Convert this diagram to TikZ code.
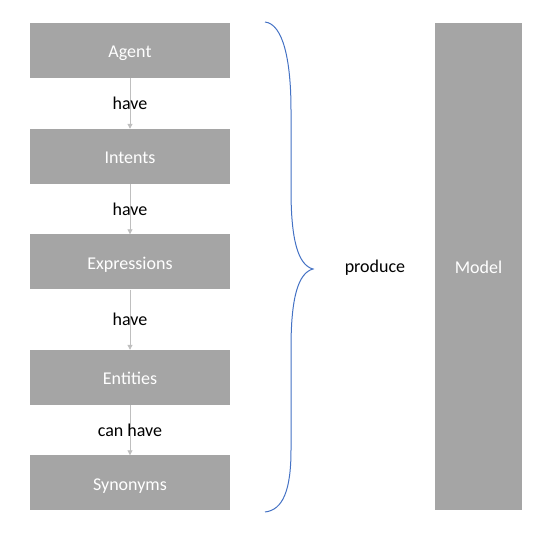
\documentclass[tikz,border=0pt]{standalone}
\usepackage{fontspec}
\setmainfont{Carlito}
\usetikzlibrary{arrows.meta}
\definecolor{boxgray}{HTML}{A5A5A5}
\definecolor{arrgray}{HTML}{BFBFBF}
\definecolor{braceblue}{HTML}{4472C4}
\tikzset{
  stepbox/.style={fill=boxgray, draw=none, minimum width=200pt, minimum height=55pt, inner sep=0pt, text=white, font=\fontsize{18}{21}\selectfont, text height=15pt, text depth=0pt},
  lbl/.style={font=\fontsize{18}{21}\selectfont, text=black, inner sep=0pt, text height=14pt, text depth=0pt},
  conn/.style={draw=arrgray, line width=0.9pt, -{Triangle[length=5pt,width=5pt]}},
}
\begin{document}
\begin{tikzpicture}[x=1pt,y=-1pt]
\useasboundingbox (0,0) rectangle (560,534);
\node[stepbox] (agent) at (130,50.5) {Agent};
\node[stepbox] (intents) at (130,156.5) {Intents};
\node[stepbox] (expr) at (130,262) {Expressions};
\node[stepbox] (ent) at (130,377.5) {Entities};
\node[stepbox] (syn) at (130,483) {Synonyms};
\node[stepbox, minimum width=87pt, minimum height=487pt] (model) at (478.5,266.5) {Model};
\draw[conn] (agent.south) -- (intents.north);
\draw[conn] (intents.south) -- (expr.north);
\draw[conn] (expr.south) -- (ent.north);
\draw[conn] (ent.south) -- (syn.north);
\node[lbl] (l1) at (130,103) {have};
\node[lbl] (l2) at (130,209) {have};
\node[lbl] (l3) at (130,319) {have};
\node[lbl] (l4) at (130,430) {can have};
\node[lbl] (prod) at (375,266) {produce};
\draw[braceblue, line width=1pt] (265,22) .. controls (283,24) and (291,60) .. (291,110)
  -- (291,190) .. controls (291,240) and (298,265) .. (313,269)
  .. controls (298,273) and (291,298) .. (291,348)
  -- (291,450) .. controls (291,490) and (283,510) .. (265,512);
\end{tikzpicture}
\end{document}
